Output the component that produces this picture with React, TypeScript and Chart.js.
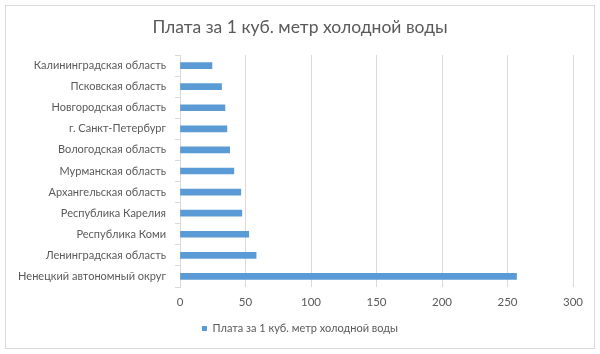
import React, { useEffect, useRef } from "react";
import { Chart, registerables } from "chart.js";

Chart.register(...registerables);

const categories = [
  "Калининградская область",
  "Псковская область",
  "Новгородская область",
  "г. Санкт-Петербург",
  "Вологодская область",
  "Мурманская область",
  "Архангельская область",
  "Республика Карелия",
  "Республика Коми",
  "Ленинградская область",
  "Ненецкий автономный округ",
];
const values = [24.4, 31.7, 34.3, 35.8, 37.9, 41.1, 46.4, 47.2, 52.5, 58.1, 256.9];
const seriesName = "Плата за 1 куб. метр холодной воды";
const titleText = "Плата за 1 куб. метр холодной воды";

const FONT = "Lato, 'Open Sans', sans-serif";
const TEXT = "#595959";
const GRID = "#D9D9D9";
const BAR = "#5B9BD5";

const borderPlugin = {
  id: "outerBorder",
  beforeDraw(chart: any) {
    const ctx = chart.ctx;
    ctx.save();
    ctx.fillStyle = "#ffffff";
    ctx.fillRect(0, 0, chart.width, chart.height);
    ctx.strokeStyle = GRID;
    ctx.lineWidth = 1;
    ctx.strokeRect(5.5, 5.5, 589, 343);
    ctx.restore();
  },
};

export default function App() {
  const ref = useRef<HTMLCanvasElement>(null);
  useEffect(() => {
    if (!ref.current) return;
    const chart = new Chart(ref.current, {
      type: "bar",
      data: {
        labels: categories,
        datasets: [
          {
            label: seriesName,
            data: values,
            backgroundColor: BAR,
            borderWidth: 0,
            barThickness: 6,
          },
        ],
      },
      plugins: [borderPlugin],
      options: {
        indexAxis: "y",
        animation: false,
        responsive: false,
        maintainAspectRatio: false,
        layout: { padding: { left: 10, right: 10, top: 0, bottom: 10 } },
        scales: {
          x: {
            min: 0,
            max: 300,
            ticks: { stepSize: 50, color: TEXT, font: { family: FONT, size: 11.5 }, padding: 8 },
            grid: { color: GRID, drawTicks: false },
            border: { display: false },
            afterFit: (s: any) => {
              s.height = 30;
            },
          },
          y: {
            ticks: { color: TEXT, font: { family: FONT, size: 11 }, padding: 9 },
            grid: { drawOnChartArea: false, drawTicks: true, tickLength: 5, color: GRID },
            border: { display: true, color: GRID },
            afterFit: (s: any) => {
              s.width = 170;
            },
          },
          spacer: {
            type: "linear",
            axis: "y",
            position: "right",
            display: true,
            ticks: { display: false },
            grid: { display: false, drawTicks: false },
            border: { display: false },
            afterFit: (s: any) => {
              s.width = 17;
            },
          },
        },
        plugins: {
          title: {
            display: true,
            text: titleText,
            color: TEXT,
            font: { family: FONT, size: 17.5, weight: "normal" },
            padding: { top: 17, bottom: 17 },
          },
          legend: {
            display: true,
            position: "bottom",
            labels: {
              color: TEXT,
              font: { family: FONT, size: 11 },
              boxWidth: 5,
              boxHeight: 5,
              padding: 6,
            },
          },
          tooltip: { enabled: false },
        },
      },
    });
    return () => chart.destroy();
  }, []);
  return (
    <div style={{ position: "fixed", left: 0, top: 0, width: 600, height: 354 }}>
      <canvas ref={ref} width={600} height={354} style={{ width: 600, height: 354 }} />
    </div>
  );
}
